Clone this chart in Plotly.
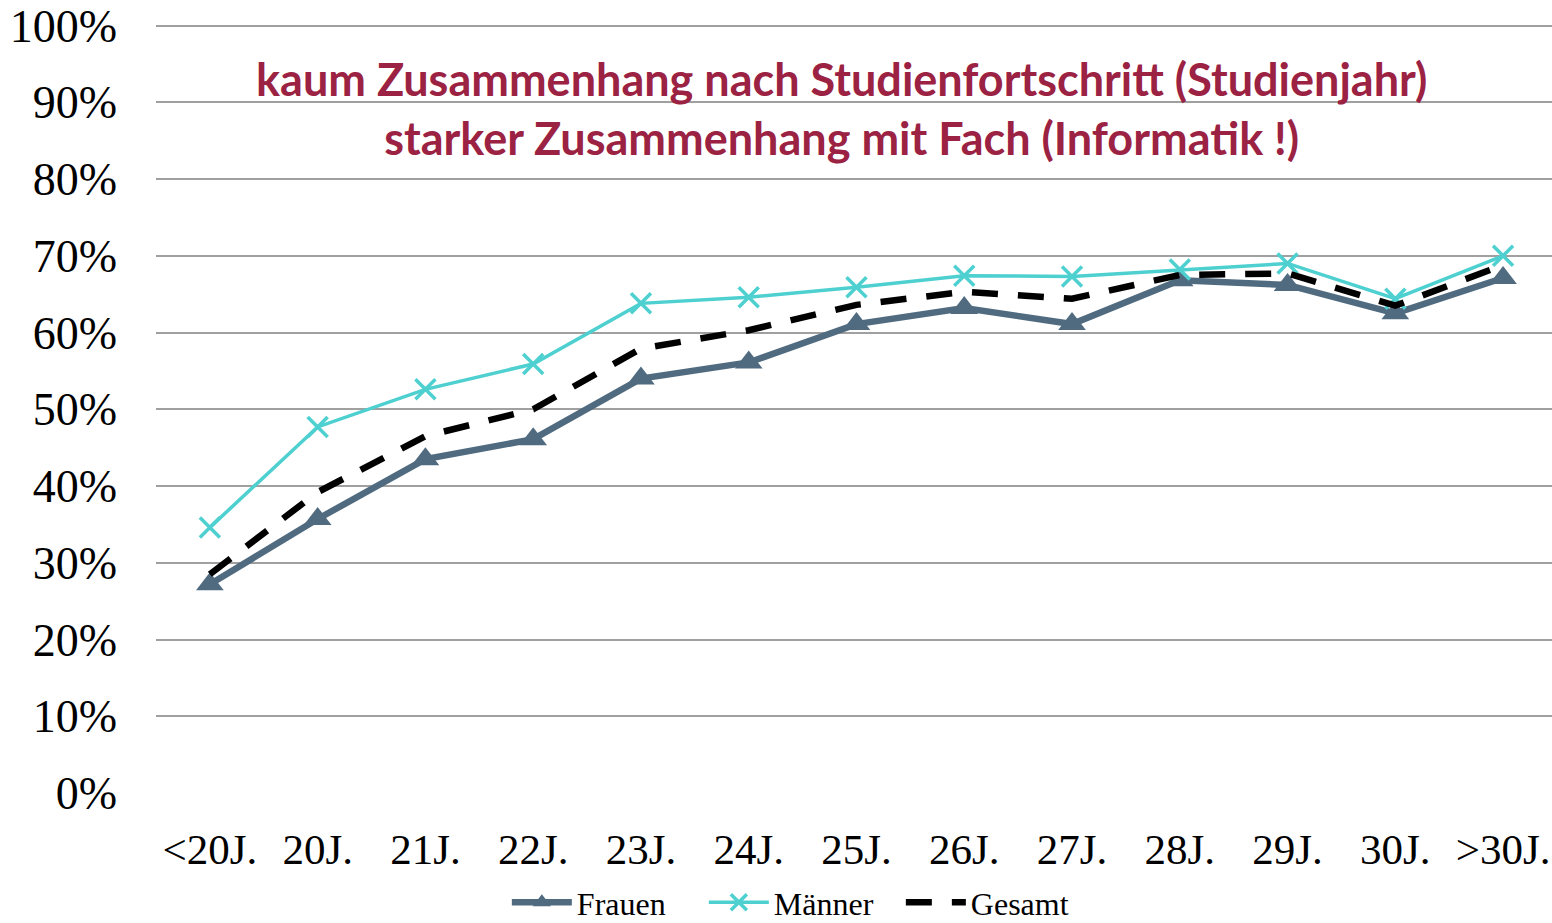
import plotly.graph_objects as go

SERIF = "Liberation Serif"
TITLE_RED = "#9B2242"
FRAUEN_C = "#506B7F"
MAENNER_C = "#4ED0D0"
GRID = "#A0A0A0"

categories = ["<20J.", "20J.", "21J.", "22J.", "23J.", "24J.", "25J.",
              "26J.", "27J.", "28J.", "29J.", "30J.", ">30J."]
frauen = [0.272, 0.357, 0.435, 0.461, 0.540, 0.561, 0.611,
          0.632, 0.611, 0.668, 0.662, 0.625, 0.671]
maenner = [0.346, 0.477, 0.526, 0.559, 0.638, 0.646, 0.659,
           0.674, 0.673, 0.682, 0.690, 0.644, 0.700]
gesamt = [0.285, 0.392, 0.465, 0.500, 0.579, 0.603, 0.636,
          0.653, 0.644, 0.675, 0.677, 0.635, 0.688]
y_ticks = [0, 0.1, 0.2, 0.3, 0.4, 0.5, 0.6, 0.7, 0.8, 0.9, 1.0]
y_labels = ["0%", "10%", "20%", "30%", "40%", "50%", "60%", "70%", "80%", "90%", "100%"]

fig = go.Figure()
fig.add_trace(go.Scatter(
    x=categories, y=frauen, name="Frauen", mode="lines+markers",
    line=dict(color=FRAUEN_C, width=6.5),
    marker=dict(symbol="triangle-up", size=24, color=FRAUEN_C),
))
fig.add_trace(go.Scatter(
    x=categories, y=maenner, name="Männer", mode="lines+markers",
    line=dict(color=MAENNER_C, width=3.5),
    marker=dict(symbol="x-thin", size=20, color=MAENNER_C,
                line=dict(color=MAENNER_C, width=3.5)),
))
fig.add_trace(go.Scatter(
    x=categories, y=gesamt, name="Gesamt", mode="lines",
    line=dict(color="black", width=6.5, dash="26px,20px"),
))

# white box behind the title hides the 90% gridline
fig.add_shape(type="rect", xref="paper", yref="y",
              x0=0.015, x1=0.9685, y0=0.83, y1=0.975,
              fillcolor="white", line_width=0, layer="between")

fig.add_annotation(
    xref="paper", yref="y", x=0.4914, y=0.892, showarrow=False,
    text="<b>kaum Zusammenhang nach Studienfortschritt (Studienjahr)<br>"
         "starker Zusammenhang mit Fach (Informatik !)</b>",
    font=dict(family="Lato", size=45, color=TITLE_RED),
    align="center",
)

fig.update_layout(
    width=1552, height=923,
    paper_bgcolor="white", plot_bgcolor="white",
    margin=dict(l=156, r=0, t=24, b=130),
    font=dict(family=SERIF, color="black"),
    showlegend=True,
    legend=dict(orientation="h", x=0.463, xanchor="center",
                yref="container", y=0.052, yanchor="top",
                font=dict(family=SERIF, size=32), itemwidth=60,
                entrywidth=122, entrywidthmode="pixels"),
)
fig.update_xaxes(
    range=[-0.5, 12.454], showgrid=False, showline=False, zeroline=False,
    automargin=False,
    tickfont=dict(family=SERIF, size=43), ticks="", ticklabelstandoff=27,
)
fig.update_yaxes(
    range=[0, 1.002], tickvals=y_ticks, ticktext=y_labels,
    showgrid=True, gridcolor=GRID, gridwidth=2, zeroline=False, showline=False,
    automargin=False,
    tickfont=dict(family=SERIF, size=46), ticks="", ticklabelstandoff=38,
)

fig.write_html(
    "out.html",
    config={"displayModeBar": False},
    post_script="document.body.style.margin='0';document.body.style.overflow='hidden';",
)
